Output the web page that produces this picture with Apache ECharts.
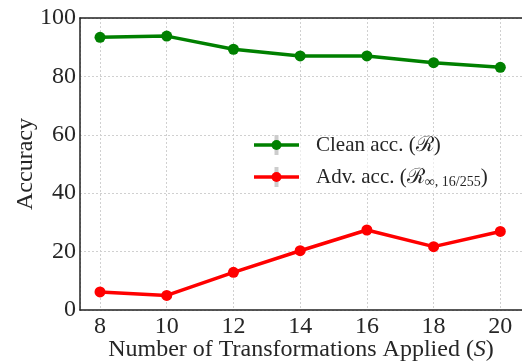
<!DOCTYPE html>
<html>
<head>
<meta charset="utf-8">
<script src="https://cdn.jsdelivr.net/npm/echarts@6/dist/echarts.min.js"></script>
<style>
  html, body { margin: 0; padding: 0; background: #fff; }
  #chart { width: 522px; height: 364px; }
</style>
</head>
<body>
<div id="chart"></div>
<script>
// Number of transformations applied (S)
const transforms = [8, 10, 12, 14, 16, 18, 20];
// Clean accuracy (%)
const cleanAcc = [93.4, 93.8, 89.3, 87.0, 87.0, 84.7, 83.1];
// Adversarial accuracy (%), eps = 16/255
const advAcc = [6.2, 5.0, 12.9, 20.3, 27.4, 21.7, 26.9];
// Y-axis ticks
const yTicks = [0, 20, 40, 60, 80, 100];

const FONT = '"Liberation Serif", "DejaVu Serif", serif';
const TEXT = '#262626';
const GREEN = '#008000';
const RED = '#ff0000';
const SPINE = { show: true, lineStyle: { color: '#222', width: 1.5 } };

const chart = echarts.init(document.getElementById('chart'), null, { renderer: 'canvas' });

function pairs(xs, ys) { return xs.map((x, i) => [x, ys[i]]); }

// Legend rows: error-bar stub, line with marker, label
function legendRow(cy, color, text) {
  return [
    { type: 'rect', shape: { x: 274.5, y: cy - 10, width: 4, height: 20 },
      style: { fill: '#cccccc' }, z: 10 },
    { type: 'line', shape: { x1: 254, y1: cy, x2: 299, y2: cy },
      style: { stroke: color, lineWidth: 3.5 }, z: 11 },
    { type: 'circle', shape: { cx: 276.5, cy: cy, r: 5 },
      style: { fill: color }, z: 12 },
    { type: 'text', x: 316, y: cy, z: 12,
      style: {
        text: text, verticalAlign: 'middle', align: 'left',
        rich: {
          t: { fontFamily: FONT, fontSize: 21, fill: TEXT, lineHeight: 24 },
          r: { fontFamily: FONT, fontSize: 21, fill: TEXT, lineHeight: 24 },
          s: { fontFamily: FONT, fontSize: 14, fill: TEXT, lineHeight: 14, verticalAlign: 'bottom' }
        }
      }
    }
  ];
}

const gridLine = { show: true, lineStyle: { color: '#d0d0d0', type: [2, 2], width: 1 } };

const option = {
  backgroundColor: '#ffffff',
  animation: false,
  grid: {
    left: 80, top: 18, right: 0, bottom: 54,
    outerBoundsMode: 'none',
    containLabel: false
  },
  xAxis: [
    {
      type: 'value',
      min: 7.4, max: 20.65, splitNumber: 6,
      axisLine: SPINE,
      axisTick: { show: false },
      axisLabel: {
        showMinLabel: false, showMaxLabel: false,
        fontFamily: FONT, fontSize: 24, color: TEXT, margin: 5
      },
      splitLine: gridLine,
      name: '{a|Number of Transformations Applied (}{i|S}{a|)}',
      nameLocation: 'middle',
      nameGap: 28,
      nameMoveOverlap: false,
      nameTextStyle: {
        rich: {
          a: { fontFamily: FONT, fontSize: 24, color: TEXT },
          i: { fontFamily: FONT, fontSize: 24, color: TEXT, fontStyle: 'italic' }
        }
      }
    },
    {
      // top spine only
      type: 'value', position: 'top',
      min: 7.4, max: 20.65,
      axisLine: SPINE,
      axisTick: { show: false },
      axisLabel: { show: false },
      splitLine: { show: false }
    }
  ],
  yAxis: {
    type: 'value',
    min: yTicks[0], max: yTicks[yTicks.length - 1], interval: 20,
    axisLine: SPINE,
    axisTick: { show: false },
    axisLabel: { fontFamily: FONT, fontSize: 24, color: TEXT, margin: 4 },
    splitLine: gridLine,
    name: 'Accuracy',
    nameLocation: 'middle',
    nameGap: 42,
    nameMoveOverlap: false,
    nameTextStyle: { fontFamily: FONT, fontSize: 24, color: TEXT }
  },
  series: [
    {
      name: 'Clean acc.',
      type: 'line',
      data: pairs(transforms, cleanAcc),
      symbol: 'circle', symbolSize: 11,
      lineStyle: { color: GREEN, width: 3.5 },
      itemStyle: { color: GREEN },
      z: 3
    },
    {
      name: 'Adv. acc.',
      type: 'line',
      data: pairs(transforms, advAcc),
      symbol: 'circle', symbolSize: 11,
      lineStyle: { color: RED, width: 3.5 },
      itemStyle: { color: RED },
      z: 3
    }
  ],
  graphic: [
    // translucent legend frame
    { type: 'rect', shape: { x: 246, y: 136, width: 254, height: 56 },
      style: { fill: 'rgba(255,255,255,0.6)' }, z: 9 }
  ].concat(
    legendRow(145, GREEN, '{t|Clean acc. (}{r|ℛ}{t|)}'),
    legendRow(177, RED, '{t|Adv. acc. (}{r|ℛ}{s|∞, 16/255}{t|)}')
  )
};

chart.setOption(option);
</script>
</body>
</html>
